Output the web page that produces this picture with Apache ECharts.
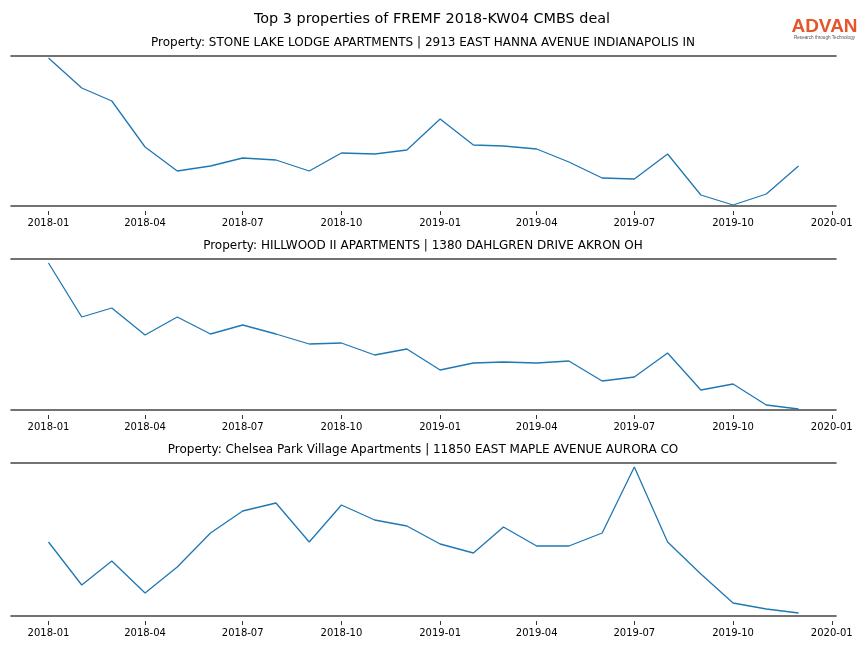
<!DOCTYPE html>
<html>
<head>
<meta charset="utf-8">
<script src="https://cdn.jsdelivr.net/npm/echarts@6/dist/echarts.min.js"></script>
<style>html,body{margin:0;padding:0;background:#fff}#c{width:864px;height:648px}</style>
</head>
<body>
<div id="c"></div>
<script>
const months = ['2018-01','2018-02','2018-03','2018-04','2018-05','2018-06','2018-07','2018-08','2018-09','2018-10','2018-11','2018-12',
  '2019-01','2019-02','2019-03','2019-04','2019-05','2019-06','2019-07','2019-08','2019-09','2019-10','2019-11','2019-12'];
const tickLabels = ['2018-01','2018-04','2018-07','2018-10','2019-01','2019-04','2019-07','2019-10','2020-01'];
const mainTitle = 'Top 3 properties of FREMF 2018-KW04 CMBS deal';
const titles = [
  'Property: STONE LAKE LODGE APARTMENTS | 2913 EAST HANNA AVENUE INDIANAPOLIS IN',
  'Property: HILLWOOD II APARTMENTS | 1380 DAHLGREN DRIVE AKRON OH',
  'Property: Chelsea Park Village Apartments | 11850 EAST MAPLE AVENUE AURORA CO'
];
const stoneLake = [148,118,105,59,35,40,48,46,35,53,52,56,87,61,60,57,44,28,27,52,11,1,12,40];
const hillwood = [147,93,102,75,93,76,85,76,66,67,55,61,40,47,48,47,49,29,33,57,20,26,5,1];
const chelsea = [74,31,55,23,49,83,105,113,74,111,96,90,72,63,89,70,70,83,149,74,42,13,7,3];

const seriesData = [stoneLake, hillwood, chelsea];
function ts(s){const p=s.split('-');return Date.UTC(+p[0], +p[1]-1, +(p[2]||1));}
const span = ts(months[months.length-1]) - ts(months[0]);
const xMin = ts(months[0]) - span*0.05, xMax = ts(months[months.length-1]) + span*0.05;
const tickVals = tickLabels.map(ts);
const grids = [
  {left:11, right:28, top:56, height:150},
  {left:11, right:28, top:259, height:151},
  {left:11, right:28, top:463, height:153}
];
const font = 'DejaVu Sans';
const spine = {show:true, lineStyle:{color:'#444', width:1.6}};
const xAxes = [], yAxes = [], series = [];
grids.forEach((g,i)=>{
  const base = {type:'value', gridIndex:i, min:xMin, max:xMax, splitLine:{show:false}};
  xAxes.push(Object.assign({}, base, {position:'bottom', axisLine:spine, axisTick:{show:false}, axisLabel:{show:false}}));
  xAxes.push(Object.assign({}, base, {position:'top', axisLine:spine, axisTick:{show:false}, axisLabel:{show:false}}));
  xAxes.push(Object.assign({}, base, {position:'bottom', offset:5, axisLine:{show:false},
    axisTick:{show:true, length:4, customValues:tickVals, lineStyle:{color:'#000', width:0.8}},
    axisLabel:{show:true, customValues:tickVals, margin:7, color:'#000', fontFamily:font, fontSize:10,
      formatter:v=>{const d=new Date(v);return d.getUTCFullYear()+'-'+String(d.getUTCMonth()+1).padStart(2,'0');}}}));
  yAxes.push({type:'value', gridIndex:i, min:0, max:g.height, show:false});
  series.push({type:'line', xAxisIndex:i*3, yAxisIndex:i, data:months.map((m,k)=>[ts(m), seriesData[i][k]]),
    showSymbol:false, symbol:'none', lineStyle:{color:'#1f77b4', width:1.3}, itemStyle:{color:'#1f77b4'}});
});
const chart = echarts.init(document.getElementById('c'), null, {renderer:'canvas'});
chart.setOption({
  animation:false,
  backgroundColor:'#fff',
  grid:grids,
  xAxis:xAxes,
  yAxis:yAxes,
  series:series,
  graphic:[
    {type:'text', x:432, y:12, style:{text:mainTitle, font:'14.4px "'+font+'"', fill:'#000', textAlign:'center'}},
    ...titles.map((t,i)=>({type:'text', x:423, y:grids[i].top-19, style:{text:t, font:'12px "'+font+'"', fill:'#000', textAlign:'center'}})),
    {type:'text', x:824.5, y:17, style:{text:'ADVAN', font:'600 19px "Liberation Sans"', fill:'#e4572b', textAlign:'center'}},
    {type:'text', x:824.5, y:35.5, style:{text:'Research through Technology', font:'4.6px "Liberation Sans"', fill:'#555', textAlign:'center'}}
  ]
});
</script>
</body>
</html>
